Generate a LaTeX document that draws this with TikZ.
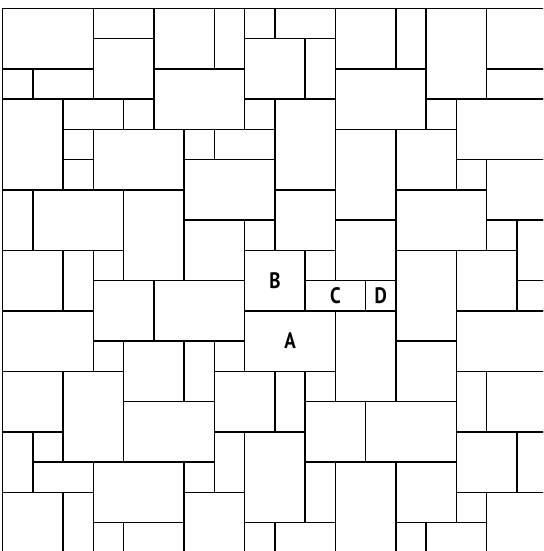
\documentclass[tikz,border=0pt]{standalone}
\usepackage{graphicx}
\usepackage{fontspec}
\newfontfamily\lblfont{PT Sans}
\newcommand{\lbltxt}[1]{\scalebox{0.85}[1]{#1}}
\begin{document}
\begin{tikzpicture}[x=1cm,y=-1cm,
  tile/.style={draw=black,line width=1.4pt,line cap=rect},
  lbl/.style={font=\lblfont\bfseries\fontsize{21}{21}\selectfont,inner sep=0pt}]
\useasboundingbox (-0.089,-0.274) rectangle (17.861,17.94);
\fill[white] (-0.089,-0.274) rectangle (17.861,17.94);
\clip (-0.089,-0.274) rectangle (17.861,17.94);
\foreach \c/\r/\w/\h in {
 0/0/3/2, 3/0/2/1, 3/1/2/2, 5/0/2/2, 7/0/1/2, 8/0/1/1, 9/0/2/1, 8/1/2/2, 10/1/1/2,
 11/0/2/2, 13/0/1/2, 14/0/2/3, 16/0/2/2,
 0/2/1/1, 1/2/2/1, 5/2/3/2, 8/3/1/1, 9/3/2/3, 11/2/3/2, 16/2/2/1,
 0/3/2/3, 2/3/2/1, 4/3/1/1, 14/3/1/1, 15/3/3/2,
 2/4/1/1, 2/5/1/1, 3/4/3/2, 6/4/1/1, 7/4/2/1, 6/5/3/2, 11/4/2/3, 13/4/2/2,
 15/5/1/1, 16/5/2/2,
 0/6/1/2, 1/6/3/2, 4/6/2/3, 9/6/2/2, 13/6/3/2,
 6/7/2/2, 8/7/1/1, 11/7/2/2, 16/7/1/1, 17/7/1/2,
 0/8/2/2, 2/8/1/2, 3/8/1/1, 8/8/2/2, 10/8/1/1, 13/8/2/3, 15/8/2/2,
 3/9/2/2, 5/9/3/2, 10/9/2/1, 12/9/1/1, 17/9/1/1,
 0/10/3/2, 8/10/3/2, 11/10/2/3, 15/10/3/2,
 3/11/1/1, 4/11/2/2, 6/11/1/2, 7/11/1/1, 13/11/2/2,
 0/12/2/2, 2/12/2/3, 7/12/2/2, 9/12/1/2, 10/12/1/1, 15/12/1/2, 16/12/2/2,
 4/13/3/2, 10/13/2/2, 12/13/3/2,
 0/14/1/2, 1/14/1/1, 7/14/1/2, 8/14/2/3, 15/14/2/2, 17/14/1/2,
 1/15/2/1, 3/15/3/2, 6/15/1/1, 10/15/1/2, 11/15/2/3, 13/15/2/2,
 0/16/2/2, 2/16/1/2, 6/16/2/2, 15/16/1/1, 16/16/2/2,
 3/17/1/1, 4/17/2/1, 8/17/1/1, 9/17/2/1, 13/17/1/1, 14/17/2/1}
 \draw[tile] (\c,\r) rectangle ++(\w,\h);
\node[lbl] (B) at (9,9) {\lbltxt{B}};
\node[lbl] (C) at (11,9.5) {\lbltxt{C}};
\node[lbl] (D) at (12.5,9.5) {\lbltxt{D}};
\node[lbl] (A) at (9.5,11) {\lbltxt{A}};
\end{tikzpicture}
\end{document}
